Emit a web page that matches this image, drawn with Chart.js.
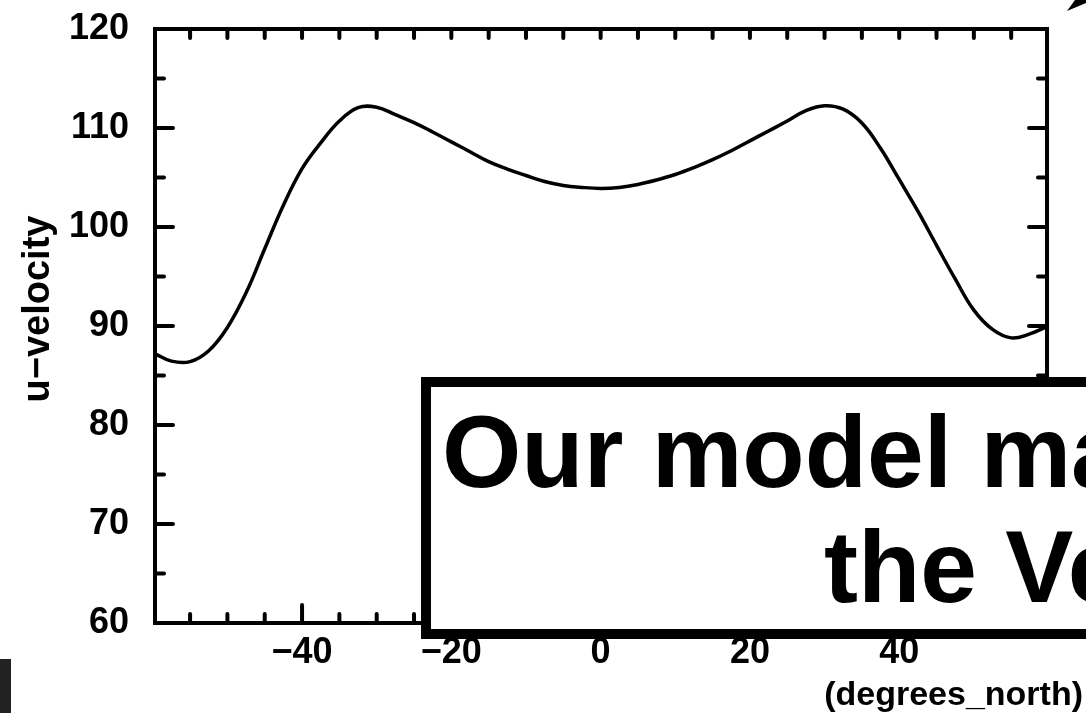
<!DOCTYPE html>
<html>
<head>
<meta charset="utf-8">
<script src="https://cdn.jsdelivr.net/npm/chart.js@4.4.1/dist/chart.umd.min.js"></script>
<style>
  html, body { margin: 0; padding: 0; background: #fff; }
  #wrap { width: 1086px; height: 713px; }
</style>
</head>
<body>
<div id="wrap"><canvas id="myChart" width="1086" height="713"></canvas></div>
<script>
// latitude (degrees_north) and zonal wind
const lats = [-59.7, -57.5, -55, -52.5, -50, -47.5, -45, -42.5, -40, -37.5, -35, -32.5, -30, -27.5, -25, -22.5, -20, -17.5, -15, -12.5,
              -10, -7.5, -5, -2.5, 0, 2.5, 5, 7.5, 10, 12.5, 15, 17.5, 20, 22.5, 25, 27.5, 30, 32.5, 35, 37.5,
              40, 42.5, 45, 47.5, 50, 52.5, 55, 57.5, 59.7];
const uVel = [87.2, 86.45, 86.4, 87.5, 89.85, 93.35, 97.8, 102.2, 105.9, 108.5, 110.7, 112.05, 112.1, 111.35, 110.55, 109.6, 108.6, 107.6, 106.6, 105.85,
              105.2, 104.6, 104.2, 104.0, 103.9, 104.0, 104.3, 104.75, 105.3, 106.0, 106.8, 107.7, 108.7, 109.7, 110.7, 111.75, 112.25, 111.9, 110.5, 107.95,
              104.8, 101.6, 98.15, 94.75, 91.6, 89.65, 88.8, 89.2, 89.9];

const xTicks = [-40, -20, 0, 20, 40];
const xTickLabels = ["\u221240", "\u221220", "0", "20", "40"];
const xMinor = [-55, -50, -45, -35, -30, -25, -15, -10, -5, 5, 10, 15, 25, 30, 35, 45, 50, 55];
const yTicks = [60, 70, 80, 90, 100, 110, 120];
const yTickLabels = ["60", "70", "80", "90", "100", "110", "120"];
const yMinor = [65, 75, 85, 95, 105, 115];

const xTitle = "(degrees_north)";
const yTitle = "u\u2212velocity";
const bannerLines = ["Our model ma", "the Ve"];

const FONT = "'Liberation Sans', Arial, sans-serif";

// frame, inward ticks, axis titles and the banner laid over the plot
const framePlugin = {
  id: "frame",
  afterDraw(chart) {
    const ctx = chart.ctx;
    const a = chart.chartArea;
    const sx = chart.scales.x, sy = chart.scales.y;
    ctx.save();
    ctx.strokeStyle = "#000";
    ctx.lineWidth = 4;
    ctx.strokeRect(a.left, a.top, a.right - a.left, a.bottom - a.top);

    function seg(x1, y1, x2, y2) {
      ctx.beginPath();
      ctx.moveTo(x1, y1);
      ctx.lineTo(x2, y2);
      ctx.stroke();
    }
    ctx.lineCap = "round";
    xTicks.forEach(function(v) {
      const px = sx.getPixelForValue(v);
      seg(px, a.bottom, px, a.bottom - 18);
      seg(px, a.top, px, a.top + 9);
    });
    xMinor.forEach(function(v) {
      const px = sx.getPixelForValue(v);
      seg(px, a.bottom, px, a.bottom - 9);
      seg(px, a.top, px, a.top + 9);
    });
    yTicks.forEach(function(v) {
      const py = sy.getPixelForValue(v);
      seg(a.left, py, a.left + 18, py);
      seg(a.right, py, a.right - 18, py);
    });
    yMinor.forEach(function(v) {
      const py = sy.getPixelForValue(v);
      seg(a.left, py, a.left + 9, py);
      seg(a.right, py, a.right - 9, py);
    });

    // axis titles
    ctx.fillStyle = "#000";
    ctx.font = "bold 34px " + FONT;
    ctx.textAlign = "right";
    ctx.textBaseline = "middle";
    ctx.fillText(xTitle, 1083, 696);

    ctx.save();
    ctx.translate(39, 309);
    ctx.rotate(-Math.PI / 2);
    ctx.textAlign = "center";
    ctx.font = "bold 38px " + FONT;
    ctx.fillText(yTitle, 0, 0);
    ctx.restore();

    // decorations cut off at the picture edge
    ctx.fillStyle = "#222";
    ctx.fillRect(0, 659, 11, 54);
    ctx.fillStyle = "#000";
    ctx.beginPath();
    ctx.moveTo(1067, 11);
    ctx.lineTo(1075, 0);
    ctx.lineTo(1086, 0);
    ctx.lineTo(1086, 3);
    ctx.closePath();
    ctx.fill();

    // banner
    ctx.fillStyle = "#fff";
    ctx.fillRect(426, 382, 700, 252);
    ctx.lineWidth = 10;
    ctx.lineCap = "butt";
    ctx.strokeRect(426, 382, 700, 252);
    ctx.fillStyle = "#000";
    ctx.font = "bold 102px " + FONT;
    ctx.textAlign = "left";
    ctx.textBaseline = "alphabetic";
    ctx.fillText(bannerLines[0], 442, 487);
    ctx.fillText(bannerLines[1], 824, 602);
    ctx.restore();
  }
};

const tickFont = { family: FONT, size: 36, weight: "bold", lineHeight: 1 };

new Chart(document.getElementById("myChart").getContext("2d"), {
  type: "line",
  data: {
    datasets: [{
      data: lats.map(function(v, i) { return { x: v, y: uVel[i] }; }),
      borderColor: "#000",
      borderWidth: 3.5,
      pointRadius: 0,
      fill: false,
      tension: 0.4
    }]
  },
  options: {
    responsive: false,
    animation: false,
    devicePixelRatio: 1,
    layout: { padding: { top: 29, right: 39, left: 0, bottom: 0 } },
    plugins: { legend: { display: false }, tooltip: { enabled: false } },
    scales: {
      x: {
        type: "linear",
        min: -59.7,
        max: 59.8,
        afterBuildTicks: function(s) { s.ticks = xTicks.map(function(v) { return { value: v }; }); },
        afterFit: function(s) { s.height = 90; s.paddingLeft = 0; s.paddingRight = 0; },
        grid: { display: false },
        border: { display: false },
        ticks: {
          callback: function(v, i) { return xTickLabels[i]; },
          font: tickFont,
          color: "#000",
          padding: 4,
          maxRotation: 0,
          autoSkip: false
        }
      },
      y: {
        min: 60,
        max: 120,
        afterBuildTicks: function(s) { s.ticks = yTicks.map(function(v) { return { value: v }; }); },
        afterFit: function(s) { s.width = 155; s.paddingTop = 0; s.paddingBottom = 0; },
        grid: { display: false },
        border: { display: false },
        ticks: {
          callback: function(v, i) { return yTickLabels[i]; },
          font: tickFont,
          color: "#000",
          padding: 18,
          autoSkip: false
        }
      }
    }
  },
  plugins: [framePlugin]
});
</script>
</body>
</html>
